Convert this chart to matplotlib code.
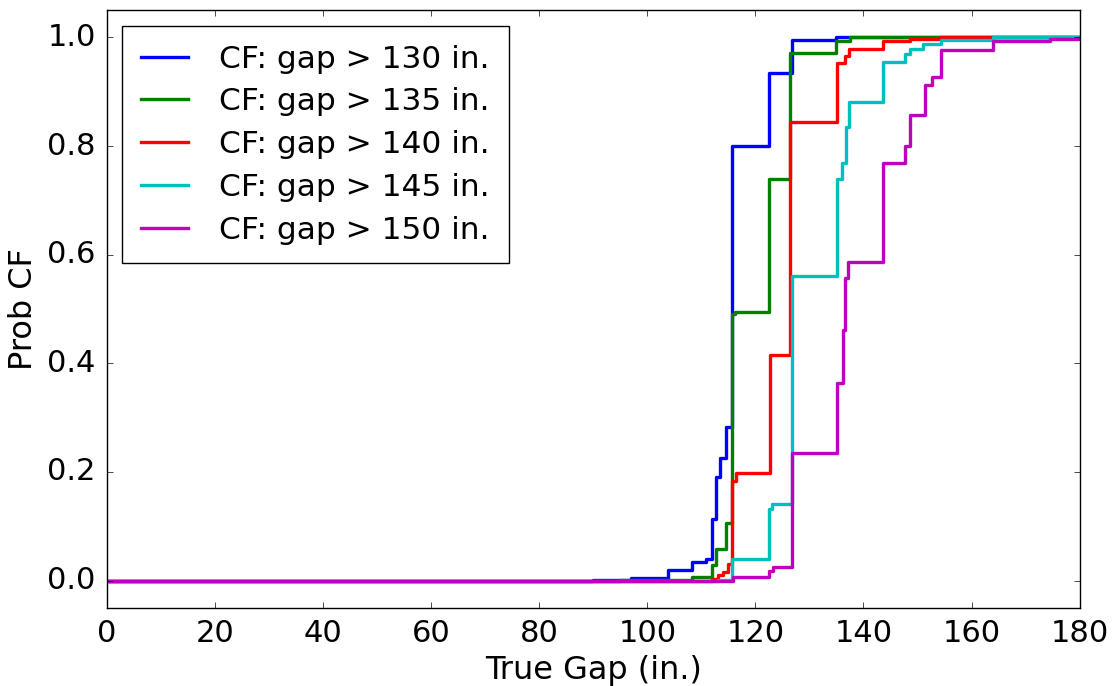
import matplotlib
matplotlib.use("Agg")
from matplotlib import pyplot as plt

# step CDFs: x where each step starts, y value after the step
gap130_x = [0, 90, 97, 103.8, 108.2, 110.9, 111.9, 112.8, 113.4, 114.5, 115.6, 122.5, 126.7, 135, 180]
gap130_y = [0.0, 0.002, 0.004, 0.019, 0.034, 0.040, 0.114, 0.19, 0.226, 0.282, 0.80, 0.935, 0.996, 1.0, 1.0]

gap135_x = [0, 95, 108.2, 111.9, 112.8, 114.6, 115.6, 116.2, 122.5, 126.4, 135, 137.5, 180]
gap135_y = [0.0, 0.002, 0.006, 0.028, 0.059, 0.106, 0.49, 0.494, 0.739, 0.972, 0.994, 1.0, 1.0]

gap140_x = [0, 111.9, 113, 114, 115, 115.7, 116.5, 122.7, 126.5, 135.1, 136.5, 137.3, 143.6, 148.6, 154.1, 180]
gap140_y = [0.0, 0.003, 0.011, 0.016, 0.031, 0.184, 0.198, 0.416, 0.845, 0.953, 0.965, 0.979, 0.994, 0.998, 1.0, 1.0]

gap145_x = [0, 113, 115.7, 122.5, 123.1, 126.7, 135.1, 136.1, 136.7, 137.3, 143.6, 147.6, 148.6, 151, 154.4, 164, 180]
gap145_y = [0.0, 0.002, 0.039, 0.132, 0.141, 0.561, 0.739, 0.768, 0.835, 0.881, 0.955, 0.970, 0.979, 0.988, 0.996, 1.0, 1.0]

gap150_x = [0, 115.8, 122.5, 123.3, 126.7, 135.1, 136.3, 136.6, 137.2, 143.6, 147.6, 148.6, 151.3, 152.7, 154.4, 164, 174.5, 180]
gap150_y = [0.0, 0.006, 0.017, 0.025, 0.235, 0.363, 0.462, 0.557, 0.586, 0.769, 0.80, 0.857, 0.912, 0.928, 0.977, 0.993, 0.997, 0.997]

thresholds = [130, 135, 140, 145, 150]
colors = ["b", "g", "r", "c", "m"]

def main():
    plt.style.use("classic")
    fig = plt.figure(figsize=(11.13, 6.86), dpi=100)
    fig.patch.set_facecolor("white")
    ax = fig.add_axes([0.096, 0.114, 0.874, 0.871])

    series = [(gap130_x, gap130_y), (gap135_x, gap135_y), (gap140_x, gap140_y),
              (gap145_x, gap145_y), (gap150_x, gap150_y)]
    for (xs, ys), t, c in zip(series, thresholds, colors):
        ax.step(xs, ys, where="post", color=c, lw=2.4, label="CF: gap > %d in." % t)

    ax.set_xlim(0, 180)
    ax.set_ylim(-0.05, 1.05)
    ax.set_xticks(range(0, 181, 20))
    ax.set_yticks([0.0, 0.2, 0.4, 0.6, 0.8, 1.0])
    ax.tick_params(labelsize=22, pad=8)
    ax.set_xlabel("True Gap (in.)", fontsize=23, labelpad=5)
    ax.set_ylabel("Prob CF", fontsize=23, labelpad=6)

    ax.legend(loc="upper left", fontsize=22.5, handlelength=1.5, handletextpad=1.0,
              borderaxespad=0.5, borderpad=0.6, labelspacing=0.44, numpoints=1)

    fig.savefig("out.png", dpi=100, facecolor="white")

main()
